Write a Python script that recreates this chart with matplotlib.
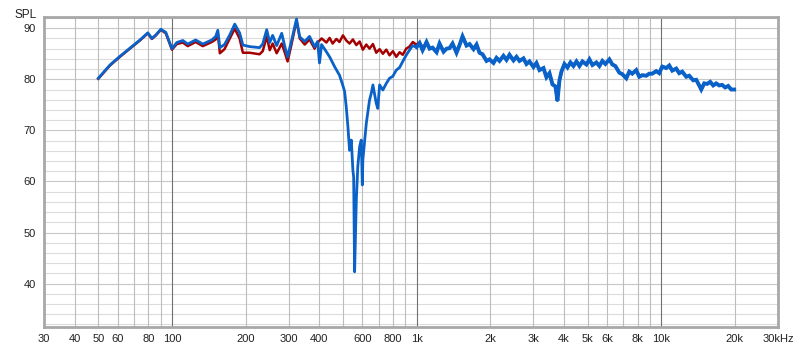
import matplotlib
matplotlib.use("Agg")
import matplotlib.pyplot as plt
from matplotlib.ticker import FixedLocator, NullFormatter

plt.rcParams['font.family'] = ['Liberation Sans', 'DejaVu Sans']

# measured response without correction (red) - 50 Hz .. ~1 kHz
red_freq = [50, 55.8, 61.3, 67.3, 74, 79.7, 82.8, 86, 90.1, 94.4, 100, 104.7, 110.8, 116, 125,
            133.7, 145.5, 151, 154, 157, 164, 172, 180.6, 189, 195, 208, 228, 235, 244, 251,
            258, 268, 281, 289, 297, 308, 323, 333, 349, 365, 383, 394, 409, 428, 441, 454,
            470, 484, 500, 516, 532, 549, 567, 585, 603, 623, 642, 663, 684, 706, 728, 752,
            775, 800, 826, 852, 878, 907, 935, 965, 996, 1027, 1060]
red_spl = [80.1, 82.7, 84.4, 86.0, 87.6, 89.0, 87.9, 88.6, 89.7, 89.0, 85.8, 86.9, 87.2, 86.5, 87.3,
           86.5, 87.3, 87.8, 89.0, 85.1, 85.9, 87.9, 89.9, 88.0, 85.2, 85.2, 84.9, 85.5, 88.4, 85.7,
           87.0, 85.1, 87.0, 85.3, 83.5, 86.8, 91.5, 88.0, 86.8, 87.8, 86.0, 87.2, 88.0, 87.2, 88.1, 87.0,
           87.9, 87.3, 88.6, 87.6, 87.0, 87.8, 86.7, 87.4, 85.8, 86.8, 86.0, 86.9, 85.2, 85.9, 85.0, 85.8,
           84.7, 85.5, 84.4, 85.3, 84.8, 86.0, 86.4, 87.3, 86.8, 87.2, 86.3]

# measured response with the notch (blue) - 50 Hz .. 20 kHz
blue_freq = [50, 55.8, 61.3, 67.3, 74, 79.7, 82.8, 86, 90.1, 94.4, 100, 104.7, 110.8, 116, 125,
             133.7, 145.5, 151, 154, 157, 164, 172, 180.6, 189, 195, 208, 228, 235, 244, 251,
             258, 268, 281, 289, 297, 308, 323, 333, 349, 365, 383, 394, 401, 409, 425, 441,
             462, 484, 498, 508, 516, 524, 532, 541, 549, 553, 558, 567, 575, 585, 594, 600,
             603, 623, 642, 653, 663, 684, 694, 706, 728, 752, 775, 800, 826, 852, 878, 909,
             935, 962, 1000,
             1029, 1058, 1098, 1130, 1162, 1207, 1241, 1289, 1326, 1364, 1403, 1456, 1498, 1541,
             1600, 1646, 1709, 1758, 1808, 1860, 1931, 1986, 2062, 2121, 2182, 2265, 2330, 2397,
             2489, 2560, 2633, 2734, 2812, 2893, 3004, 3090, 3178, 3300, 3394, 3492, 3592, 3694,
             3764, 3836, 3908, 4020, 4135, 4254, 4376, 4501, 4630, 4762, 4944, 5086, 5231, 5431,
             5586, 5746, 5911, 6136, 6310, 6490, 6738, 6931, 7195, 7401, 7613, 7903, 8130, 8363,
             8682, 8930, 9186, 9536, 9809, 10090, 10480, 10780, 11090, 11510, 11840, 12180,
             12650, 13010, 13510, 13900, 14290, 14570, 14980, 15410, 15850, 16300, 16770, 17250,
             17740, 18250, 18770, 19310, 19860]
blue_spl = [80.2, 82.8, 84.5, 86.1, 87.7, 89.1, 88.0, 88.7, 89.8, 89.2, 86.0, 87.2, 87.6, 86.9, 87.7,
            86.9, 87.7, 88.4, 89.6, 86.2, 86.8, 88.6, 90.8, 89.1, 86.7, 86.4, 86.2, 86.9, 89.7, 87.2,
            88.6, 86.6, 89.0, 86.5, 84.4, 87.5, 91.8, 88.3, 87.4, 88.4, 86.4, 87.4, 83.2, 86.8, 85.6, 84.4,
            82.5, 80.8, 79.0, 77.6, 74.5, 70.7, 66.1, 68.1, 62.2, 60.9, 42.3, 56.3, 62.9, 66.8, 68.1, 59.3,
            64.2, 71.4, 75.9, 77.3, 78.9, 75.3, 74.3, 78.9, 77.9, 79.2, 80.2, 80.6, 81.8, 82.3, 83.5, 84.8,
            85.7, 86.6, 86.3,
            87.1, 85.7, 87.3, 86.0, 86.2, 85.3, 87.0, 85.4, 86.0, 86.1, 87.0, 85.2, 86.7, 88.4,
            86.6, 86.9, 85.9, 86.8, 85.2, 84.9, 83.6, 83.9, 83.2, 84.2, 83.6, 84.6, 83.8, 84.8,
            83.7, 84.4, 83.6, 84.1, 83.0, 83.5, 82.4, 83.2, 81.8, 82.2, 80.4, 81.2, 79.0, 78.6,
            75.8, 79.8, 81.5, 83.0, 82.3, 83.3, 82.6, 83.5, 82.6, 83.5, 82.9, 83.9, 82.8, 83.3,
            82.6, 83.6, 83.0, 83.9, 82.9, 82.6, 81.3, 81.0, 80.2, 81.5, 81.1, 81.8, 80.5, 80.8,
            80.7, 81.1, 81.1, 81.6, 81.2, 82.5, 82.2, 82.7, 81.7, 82.1, 81.2, 81.5,
            80.5, 80.7, 79.8, 79.9, 78.8, 78.0, 79.2, 79.1, 79.5, 78.8, 79.2, 78.8,
            78.9, 78.4, 78.7, 78.0, 78.0]

xticks = [30, 40, 50, 60, 80, 100, 200, 300, 400, 600, 800, 1000, 2000, 3000, 4000, 5000,
          6000, 8000, 10000, 20000, 30000]
xlabels = ['30', '40', '50', '60', '80', '100', '200', '300', '400', '600', '800', '1k', '2k',
           '3k', '4k', '5k', '6k', '8k', '10k', '20k', '30kHz']
yticks = [40, 50, 60, 70, 80, 90]

fig = plt.figure(figsize=(8.0, 3.51), dpi=100)
ax = fig.add_axes([0.055, 0.0684, 0.9175, 0.8832])

ax.set_xscale('log')
ax.set_xlim(30, 30000)
ax.set_ylim(31.5, 92.2)

# grid
for y in range(32, 93, 2):
    ax.axhline(y, color='#c8c8c8' if y % 10 == 0 else '#dcdcdc', lw=0.8, zorder=0)
for dec in [10, 100, 1000, 10000]:
    for m in range(1, 10):
        f = dec * m
        if 30 <= f <= 30000:
            ax.axvline(f, color='#707070' if m == 1 else '#bdbdbd', lw=0.8, zorder=0)

ax.plot(red_freq, red_spl, color='#a50000', lw=1.8, zorder=2)
ax.plot(blue_freq, blue_spl, color='#0a62c8', lw=2.0, zorder=3)
# the noisy upper range reads as a thicker band
hi = [i for i, f in enumerate(blue_freq) if f >= 1000]
ax.plot([blue_freq[i] for i in hi], [blue_spl[i] for i in hi], color='#0a62c8', lw=2.8,
        zorder=3, solid_joinstyle='miter')

ax.xaxis.set_major_locator(FixedLocator(xticks))
ax.xaxis.set_minor_formatter(NullFormatter())
ax.set_xticks(xticks)
ax.set_xticklabels(xlabels)
ax.set_yticks(yticks)
ax.tick_params(axis='both', length=0, labelsize=8, colors='#222222')
ax.tick_params(axis='x', which='minor', length=0)
ax.tick_params(axis='x', pad=5)
ax.tick_params(axis='y', pad=6)

for s in ax.spines.values():
    s.set_color('#a8a8a8')
    s.set_linewidth(2)

fig.text(0.018, 0.975, 'SPL', fontsize=8.5, color='#222222', va='top')

fig.savefig('out.png', dpi=100)
